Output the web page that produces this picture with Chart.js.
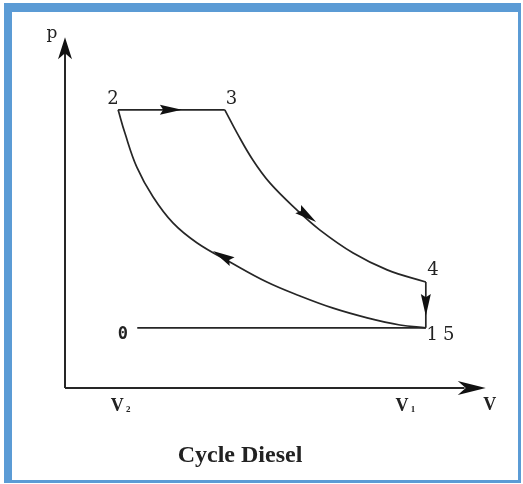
<!DOCTYPE html>
<html>
<head>
<meta charset="utf-8">
<script src="https://cdn.jsdelivr.net/npm/chart.js@4/dist/chart.umd.min.js"></script>
<style>
html,body{margin:0;padding:0;background:#fff;}
canvas{display:block;}
</style>
</head>
<body>
<canvas id="c" width="523" height="484"></canvas>
<script>
// Diesel cycle, V (volume) and p (pressure) in arbitrary units
const compressionV = [8.49, 7.88, 7.11, 6.31, 5.53, 4.75, 3.88, 3.11, 2.54, 2.07, 1.69, 1.41, 1.25];
const compressionP = [1.68, 1.76, 1.96, 2.23, 2.57, 2.96, 3.52, 4.05, 4.61, 5.34, 6.17, 7.12, 7.77];
const heatingV = [1.25, 3.76];
const heatingP = [7.77, 7.77];
const expansionV = [3.76, 4.05, 4.42, 4.82, 5.46, 6.00, 6.78, 7.58, 8.49];
const expansionP = [7.77, 7.12, 6.37, 5.73, 4.97, 4.41, 3.77, 3.30, 2.96];
const exhaustV = [8.49, 8.49];
const exhaustP = [2.96, 1.68];
const intakeV = [1.70, 8.49];
const intakeP = [1.68, 1.68];
const axisMaxV = 9.9;
const axisMaxP = 9.8;
// arrows: [tipV, tipP, tailV, tailP]
const arrows = [
  [2.75, 7.77, 2.28, 7.77],
  [5.91, 4.64, 5.41, 5.06],
  [8.49, 2.01, 8.49, 2.60],
  [3.48, 3.83, 4.07, 3.44]
];
// point labels: [text, V, p]
const pointLabels = [
  ['2', 1.13, 8.05],
  ['3', 3.92, 8.05],
  ['4', 8.66, 3.30],
  ['1', 8.64, 1.48],
  ['5', 9.03, 1.48]
];
const zeroLabel = ['0', 1.36, 1.48];
const tickLabels = [['V', '2', 1.30], ['V', '1', 8.00]];
const axisNames = ['V', 'p'];
const caption = 'Cycle Diesel';

const toPts = (xs, ys) => xs.map((x, i) => ({x: x, y: ys[i]}));
const lineColor = '#262626';
const mk = (data, tension, w) => ({
  data: data, showLine: true, borderColor: lineColor, borderWidth: w || 1.7,
  pointRadius: 0, tension: tension || 0, fill: false, clip: false
});

const drawPlugin = {
  id: 'diesel',
  beforeDraw(chart) {
    const ctx = chart.ctx;
    ctx.save();
    ctx.fillStyle = '#ffffff';
    ctx.fillRect(0, 0, chart.width, chart.height);
    ctx.fillStyle = '#5b9bd5';
    ctx.fillRect(4, 3, 515, 9);     // top
    ctx.fillRect(4, 3, 8, 480);     // left
    ctx.fillRect(518, 3, 3, 480);   // right
    ctx.fillRect(4, 480, 517, 3);   // bottom
    ctx.restore();
  },
  afterDatasetsDraw(chart) {
    const ctx = chart.ctx;
    const xs = chart.scales.x, ys = chart.scales.y;
    const px = v => xs.getPixelForValue(v), py = p => ys.getPixelForValue(p);
    ctx.save();
    ctx.fillStyle = '#111';
    // arrowheads on the cycle
    arrows.forEach(a => {
      const tx = px(a[0]), ty = py(a[1]), bx = px(a[2]), by = py(a[3]);
      const ang = Math.atan2(ty - by, tx - bx);
      const L = 22, W = 5;
      ctx.save();
      ctx.translate(tx, ty);
      ctx.rotate(ang);
      ctx.beginPath();
      ctx.moveTo(0, 0);
      ctx.lineTo(-L, -W);
      ctx.lineTo(-L * 0.85, 0);
      ctx.lineTo(-L, W);
      ctx.closePath();
      ctx.fill();
      ctx.restore();
    });
    // axis arrowheads
    const ax = px(0), ay = py(0);
    const yTop = py(axisMaxP), xEnd = px(axisMaxV);
    ctx.beginPath();
    ctx.moveTo(ax, yTop);
    ctx.lineTo(ax - 7, yTop + 22);
    ctx.lineTo(ax, yTop + 16);
    ctx.lineTo(ax + 7, yTop + 22);
    ctx.closePath();
    ctx.fill();
    ctx.beginPath();
    ctx.moveTo(xEnd, ay);
    ctx.lineTo(xEnd - 28, ay - 7);
    ctx.lineTo(xEnd - 20, ay);
    ctx.lineTo(xEnd - 28, ay + 7);
    ctx.closePath();
    ctx.fill();
    // labels
    ctx.fillStyle = '#222';
    ctx.textAlign = 'center';
    ctx.textBaseline = 'middle';
    ctx.font = '18px "DejaVu Serif", serif';
    pointLabels.forEach(l => ctx.fillText(l[0], px(l[1]), py(l[2])));
    ctx.font = 'bold 17px "DejaVu Sans Mono", monospace';
    ctx.fillText(zeroLabel[0], px(zeroLabel[1]), py(zeroLabel[2]));
    tickLabels.forEach(t => {
      const x = px(t[2]), y = ay + 18;
      ctx.font = 'bold 18px "Liberation Serif", serif';
      ctx.fillText(t[0], x - 3, y);
      ctx.font = 'bold 9px "Liberation Serif", serif';
      ctx.fillText(t[1], x + 8, y + 4);
    });
    ctx.font = 'bold 18px "Liberation Serif", serif';
    ctx.fillText(axisNames[0], xEnd + 4, ay + 17);
    ctx.font = '17px "DejaVu Serif", serif';
    ctx.fillText(axisNames[1], ax - 13, yTop - 4);
    ctx.font = 'bold 24px "Liberation Serif", serif';
    ctx.fillText(caption, 240, 456);
    ctx.restore();
  }
};

new Chart(document.getElementById('c'), {
  type: 'scatter',
  data: {
    datasets: [
      mk(toPts([0, 0], [0, axisMaxP - 0.4]), 0, 2),
      mk(toPts([0, axisMaxV - 0.5], [0, 0]), 0, 2),
      mk(toPts(compressionV, compressionP), 0.4),
      mk(toPts(heatingV, heatingP)),
      mk(toPts(expansionV, expansionP), 0.4),
      mk(toPts(exhaustV, exhaustP)),
      mk(toPts(intakeV, intakeP))
    ]
  },
  options: {
    responsive: false,
    animation: false,
    devicePixelRatio: 1,
    layout: {padding: {left: 65, right: 33, top: 30, bottom: 96}},
    plugins: {legend: {display: false}, tooltip: {enabled: false}, title: {display: false}},
    scales: {
      x: {type: 'linear', min: 0, max: 10, display: false},
      y: {type: 'linear', min: 0, max: 10, display: false}
    }
  },
  plugins: [drawPlugin]
});
</script>
</body>
</html>
